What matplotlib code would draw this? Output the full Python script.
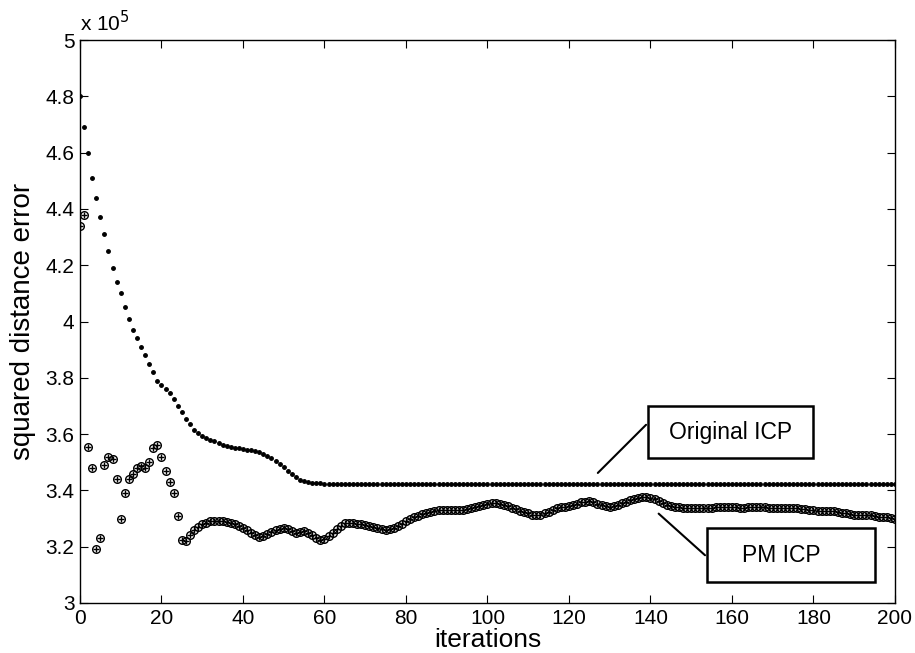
import matplotlib
matplotlib.use("Agg")
import matplotlib.pyplot as plt
from matplotlib.patches import Rectangle

plt.rcParams['font.family'] = ['Liberation Sans', 'DejaVu Sans']

# squared distance error per iteration, in units of 1e5
original_icp = [
    4.800, 4.690, 4.600, 4.510, 4.440, 4.370, 4.310, 4.250, 4.190, 4.140,
    4.100, 4.050, 4.010, 3.970, 3.940, 3.910, 3.880, 3.850, 3.820, 3.790,
    3.775, 3.760, 3.745, 3.725, 3.700, 3.680, 3.655, 3.635, 3.615, 3.605,
    3.595, 3.587, 3.580, 3.574, 3.568, 3.563, 3.559, 3.555, 3.552, 3.549,
    3.546, 3.544, 3.542, 3.539, 3.535, 3.530, 3.523, 3.515, 3.505, 3.495,
    3.484, 3.470, 3.457, 3.447, 3.437, 3.432, 3.429, 3.427, 3.426, 3.425,
    3.424, 3.423, 3.423, 3.422, 3.422, 3.422, 3.421, 3.421, 3.421, 3.421,
    3.421, 3.421, 3.421, 3.421, 3.421, 3.421, 3.421, 3.421, 3.421, 3.421,
    3.421, 3.421, 3.421, 3.421, 3.421, 3.421, 3.421, 3.421, 3.421, 3.421,
    3.421, 3.421, 3.421, 3.421, 3.421, 3.421, 3.421, 3.421, 3.421, 3.421,
    3.421, 3.421, 3.421, 3.421, 3.421, 3.421, 3.421, 3.421, 3.421, 3.421,
    3.421, 3.421, 3.421, 3.421, 3.421, 3.421, 3.421, 3.421, 3.421, 3.421,
    3.421, 3.421, 3.421, 3.421, 3.421, 3.421, 3.421, 3.421, 3.421, 3.421,
    3.421, 3.421, 3.421, 3.421, 3.421, 3.421, 3.421, 3.421, 3.421, 3.421,
    3.421, 3.421, 3.421, 3.421, 3.421, 3.421, 3.421, 3.421, 3.421, 3.421,
    3.421, 3.421, 3.421, 3.421, 3.421, 3.421, 3.421, 3.421, 3.421, 3.421,
    3.421, 3.421, 3.421, 3.421, 3.421, 3.421, 3.421, 3.421, 3.421, 3.421,
    3.421, 3.421, 3.421, 3.421, 3.421, 3.421, 3.421, 3.421, 3.421, 3.421,
    3.421, 3.421, 3.421, 3.421, 3.421, 3.421, 3.421, 3.421, 3.421, 3.421,
    3.421, 3.421, 3.421, 3.421, 3.421, 3.421, 3.421, 3.421, 3.421, 3.421,
    3.421,
]

pm_icp = [
    4.340, 4.380, 3.555, 3.480, 3.190, 3.230, 3.490, 3.520, 3.510, 3.440,
    3.300, 3.390, 3.440, 3.460, 3.480, 3.485, 3.480, 3.500, 3.550, 3.560,
    3.520, 3.470, 3.430, 3.390, 3.310, 3.225, 3.220, 3.240, 3.260, 3.270,
    3.280, 3.285, 3.290, 3.290, 3.292, 3.290, 3.288, 3.285, 3.280, 3.272,
    3.265, 3.260, 3.250, 3.240, 3.235, 3.238, 3.245, 3.252, 3.258, 3.262,
    3.265, 3.262, 3.255, 3.250, 3.252, 3.255, 3.250, 3.240, 3.232, 3.225,
    3.228, 3.238, 3.250, 3.262, 3.275, 3.283, 3.285, 3.284, 3.282, 3.280,
    3.278, 3.275, 3.270, 3.266, 3.263, 3.260, 3.262, 3.268, 3.275, 3.282,
    3.290, 3.298, 3.304, 3.310, 3.316, 3.320, 3.325, 3.328, 3.330, 3.331,
    3.332, 3.332, 3.331, 3.331, 3.332, 3.334, 3.337, 3.340, 3.344, 3.348,
    3.351, 3.354, 3.355, 3.353, 3.349, 3.344, 3.338, 3.333, 3.328, 3.323,
    3.318, 3.314, 3.312, 3.313, 3.318, 3.325, 3.332, 3.337, 3.340, 3.342,
    3.345, 3.349, 3.353, 3.357, 3.360, 3.361, 3.358, 3.352, 3.347, 3.343,
    3.342, 3.345, 3.349, 3.354, 3.359, 3.365, 3.370, 3.374, 3.377, 3.377,
    3.374, 3.368, 3.361, 3.355, 3.349, 3.345, 3.342, 3.340, 3.338, 3.337,
    3.336, 3.336, 3.336, 3.337, 3.338, 3.339, 3.340, 3.341, 3.342, 3.342,
    3.341, 3.340, 3.339, 3.339, 3.340, 3.341, 3.342, 3.341, 3.340, 3.338,
    3.337, 3.336, 3.336, 3.337, 3.338, 3.338, 3.337, 3.335, 3.333, 3.331,
    3.329, 3.327, 3.326, 3.326, 3.327, 3.326, 3.324, 3.321, 3.318, 3.316,
    3.314, 3.313, 3.313, 3.312, 3.311, 3.309, 3.307, 3.305, 3.304, 3.302,
    3.300,
]

iterations = list(range(len(original_icp)))

x_ticks = [0, 20, 40, 60, 80, 100, 120, 140, 160, 180, 200]
y_ticks = [3.0, 3.2, 3.4, 3.6, 3.8, 4.0, 4.2, 4.4, 4.6, 4.8, 5.0]
y_tick_labels = ['3', '3.2', '3.4', '3.6', '3.8', '4', '4.2', '4.4', '4.6', '4.8', '5']

fig = plt.figure(figsize=(9.15, 6.53), dpi=100)
ax = fig.add_axes([0.0874, 0.0766, 0.8907, 0.8621])

ax.plot(iterations, original_icp, linestyle='none', marker='.', color='black',
        markersize=5)
ax.plot(iterations, pm_icp, linestyle='none', marker='o', markerfacecolor='none',
        markeredgecolor='black', markersize=5.5, markeredgewidth=1.0)
ax.plot(iterations, pm_icp, linestyle='none', marker='+', color='black',
        markersize=4.5, markeredgewidth=1.0)

ax.set_xlim(0, 200)
ax.set_ylim(3, 5)
ax.set_xticks(x_ticks)
ax.set_yticks(y_ticks)
ax.set_yticklabels(y_tick_labels)
ax.tick_params(direction='in', length=6, width=0.8, top=True, right=True,
               labelsize=15, pad=4)
for spine in ax.spines.values():
    spine.set_linewidth(1.0)

ax.set_xlabel('iterations', fontsize=19, labelpad=0)
ax.set_ylabel('squared distance error', fontsize=20, labelpad=7)

ax.text(0.0, 1.008, r'x 10$^{5}$', transform=ax.transAxes, fontsize=15,
        ha='left', va='bottom')

# labelled callout boxes
ax.add_patch(Rectangle((139.4, 3.515), 40.5, 0.185, fill=False,
                       edgecolor='black', linewidth=1.8, zorder=5))
ax.text(159.65, 3.607, 'Original ICP', fontsize=16.5, ha='center', va='center',
        zorder=6)
ax.annotate('', xy=(126.6, 3.455), xytext=(139.4, 3.64),
            arrowprops=dict(arrowstyle='-', color='black', linewidth=1.5))

ax.add_patch(Rectangle((153.9, 3.075), 41.2, 0.191, fill=False,
                       edgecolor='black', linewidth=1.8, zorder=5))
ax.text(172.0, 3.17, 'PM ICP', fontsize=16.5, ha='center', va='center', zorder=6)
ax.annotate('', xy=(141.5, 3.324), xytext=(153.9, 3.163),
            arrowprops=dict(arrowstyle='-', color='black', linewidth=1.5))

fig.savefig('out.png', dpi=100)
